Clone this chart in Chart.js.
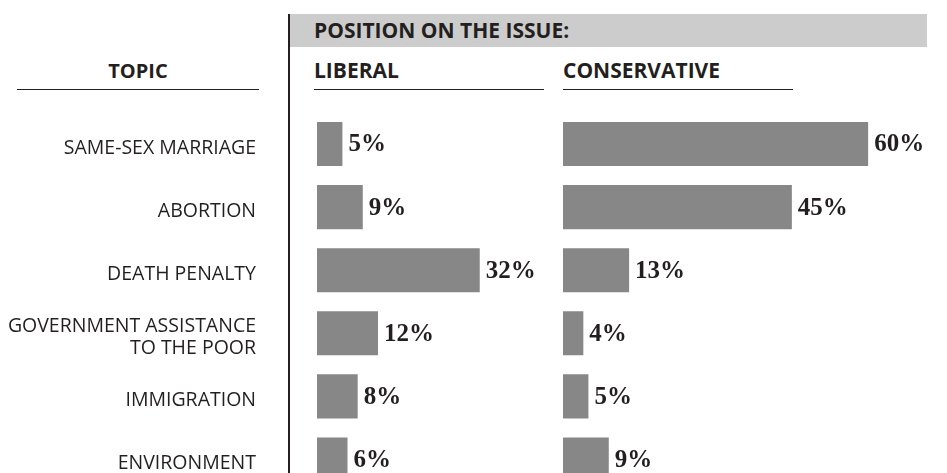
<!DOCTYPE html>
<html>
<head>
<meta charset="utf-8">
<script src="https://cdn.jsdelivr.net/npm/chart.js@4"></script>
<style>
  body { margin: 0; width: 947px; height: 473px; overflow: hidden; background: #fff; position: relative;
         font-family: "Open Sans", sans-serif; color: #231f20; }
  .abs { position: absolute; }
  .head { font-weight: 700; font-size: 21px; line-height: 21px; white-space: nowrap; }
  .rule { height: 1px; background: #231f20; }
  canvas { position: absolute; top: 0; }
</style>
</head>
<body>
<div class="abs" style="left:289px;top:14px;width:638px;height:33px;background:#cccccc"></div>
<div class="abs" style="left:288px;top:14px;width:1.5px;height:470px;background:#231f20"></div>
<div class="abs head" style="left:314px;top:20px">POSITION ON THE ISSUE:</div>
<div class="abs head" style="left:17px;width:242px;top:60px;text-align:center;font-size:20px">TOPIC</div>
<div class="abs head" style="left:314px;top:60px">LIBERAL</div>
<div class="abs head" style="left:563px;top:60px">CONSERVATIVE</div>
<div class="abs rule" style="left:17px;width:242px;top:89px"></div>
<div class="abs rule" style="left:314px;width:230px;top:89px"></div>
<div class="abs rule" style="left:563px;width:230px;top:89px"></div>

<canvas id="libChart" width="673" height="491" style="left:0"></canvas>
<canvas id="conChart" width="384" height="491" style="left:563px"></canvas>

<script>
// data
const topics = [
    'SAME-SEX MARRIAGE',
    'ABORTION',
    'DEATH PENALTY',
    ['GOVERNMENT ASSISTANCE', 'TO THE POOR'],
    'IMMIGRATION',
    'ENVIRONMENT'
]
const liberal = [5, 9, 32, 12, 8, 6]
const conservative = [60, 45, 13, 4, 5, 9]

const XMAX = 70
const barGrey = '#878787'

// draws "NN%" right after each bar
const valueLabels = {
    id: 'valueLabels',
    afterDatasetsDraw(chart) {
        const ctx = chart.ctx
        ctx.save()
        ctx.font = 'bold 25px "Liberation Serif", serif'
        ctx.fillStyle = '#231f20'
        ctx.textAlign = 'left'
        ctx.textBaseline = 'middle'
        const meta = chart.getDatasetMeta(0)
        meta.data.forEach((bar, i) => {
            const v = chart.data.datasets[0].data[i]
            ctx.fillText(v + '%', bar.x + 6, bar.y + 1)
        })
        ctx.restore()
    }
}

const makeConfig = (values, showTopics, padRight) => {
    return {
        type: 'bar',
        data: {
            labels: topics,
            datasets: [{
                data: values,
                backgroundColor: barGrey,
                borderWidth: 0,
                barPercentage: 0.7,
                categoryPercentage: 1.0
            }]
        },
        options: {
            indexAxis: 'y',
            responsive: false,
            animation: false,
            events: [],
            layout: { padding: { top: 112.5, bottom: 0, left: 0, right: padRight } },
            plugins: { legend: { display: false }, tooltip: { enabled: false } },
            scales: {
                x: { min: 0, max: XMAX, display: false },
                y: {
                    display: showTopics,
                    grid: { display: false, drawTicks: false },
                    border: { display: false },
                    ticks: {
                        padding: 61,
                        labelOffset: 4,
                        color: '#231f20',
                        font: { family: 'Open Sans', size: 19.5, lineHeight: 1.1 }
                    },
                    afterFit: scale => {
                        if (!showTopics) return
                        scale.width = 317
                        // tick padding should not eat the plot height
                        scale.paddingTop = 0
                        scale.paddingBottom = 0
                    }
                }
            }
        },
        plugins: [valueLabels]
    }
}

new Chart(document.getElementById('libChart'), makeConfig(liberal, true, 0))
new Chart(document.getElementById('conChart'), makeConfig(conservative, false, 28))
</script>
</body>
</html>
